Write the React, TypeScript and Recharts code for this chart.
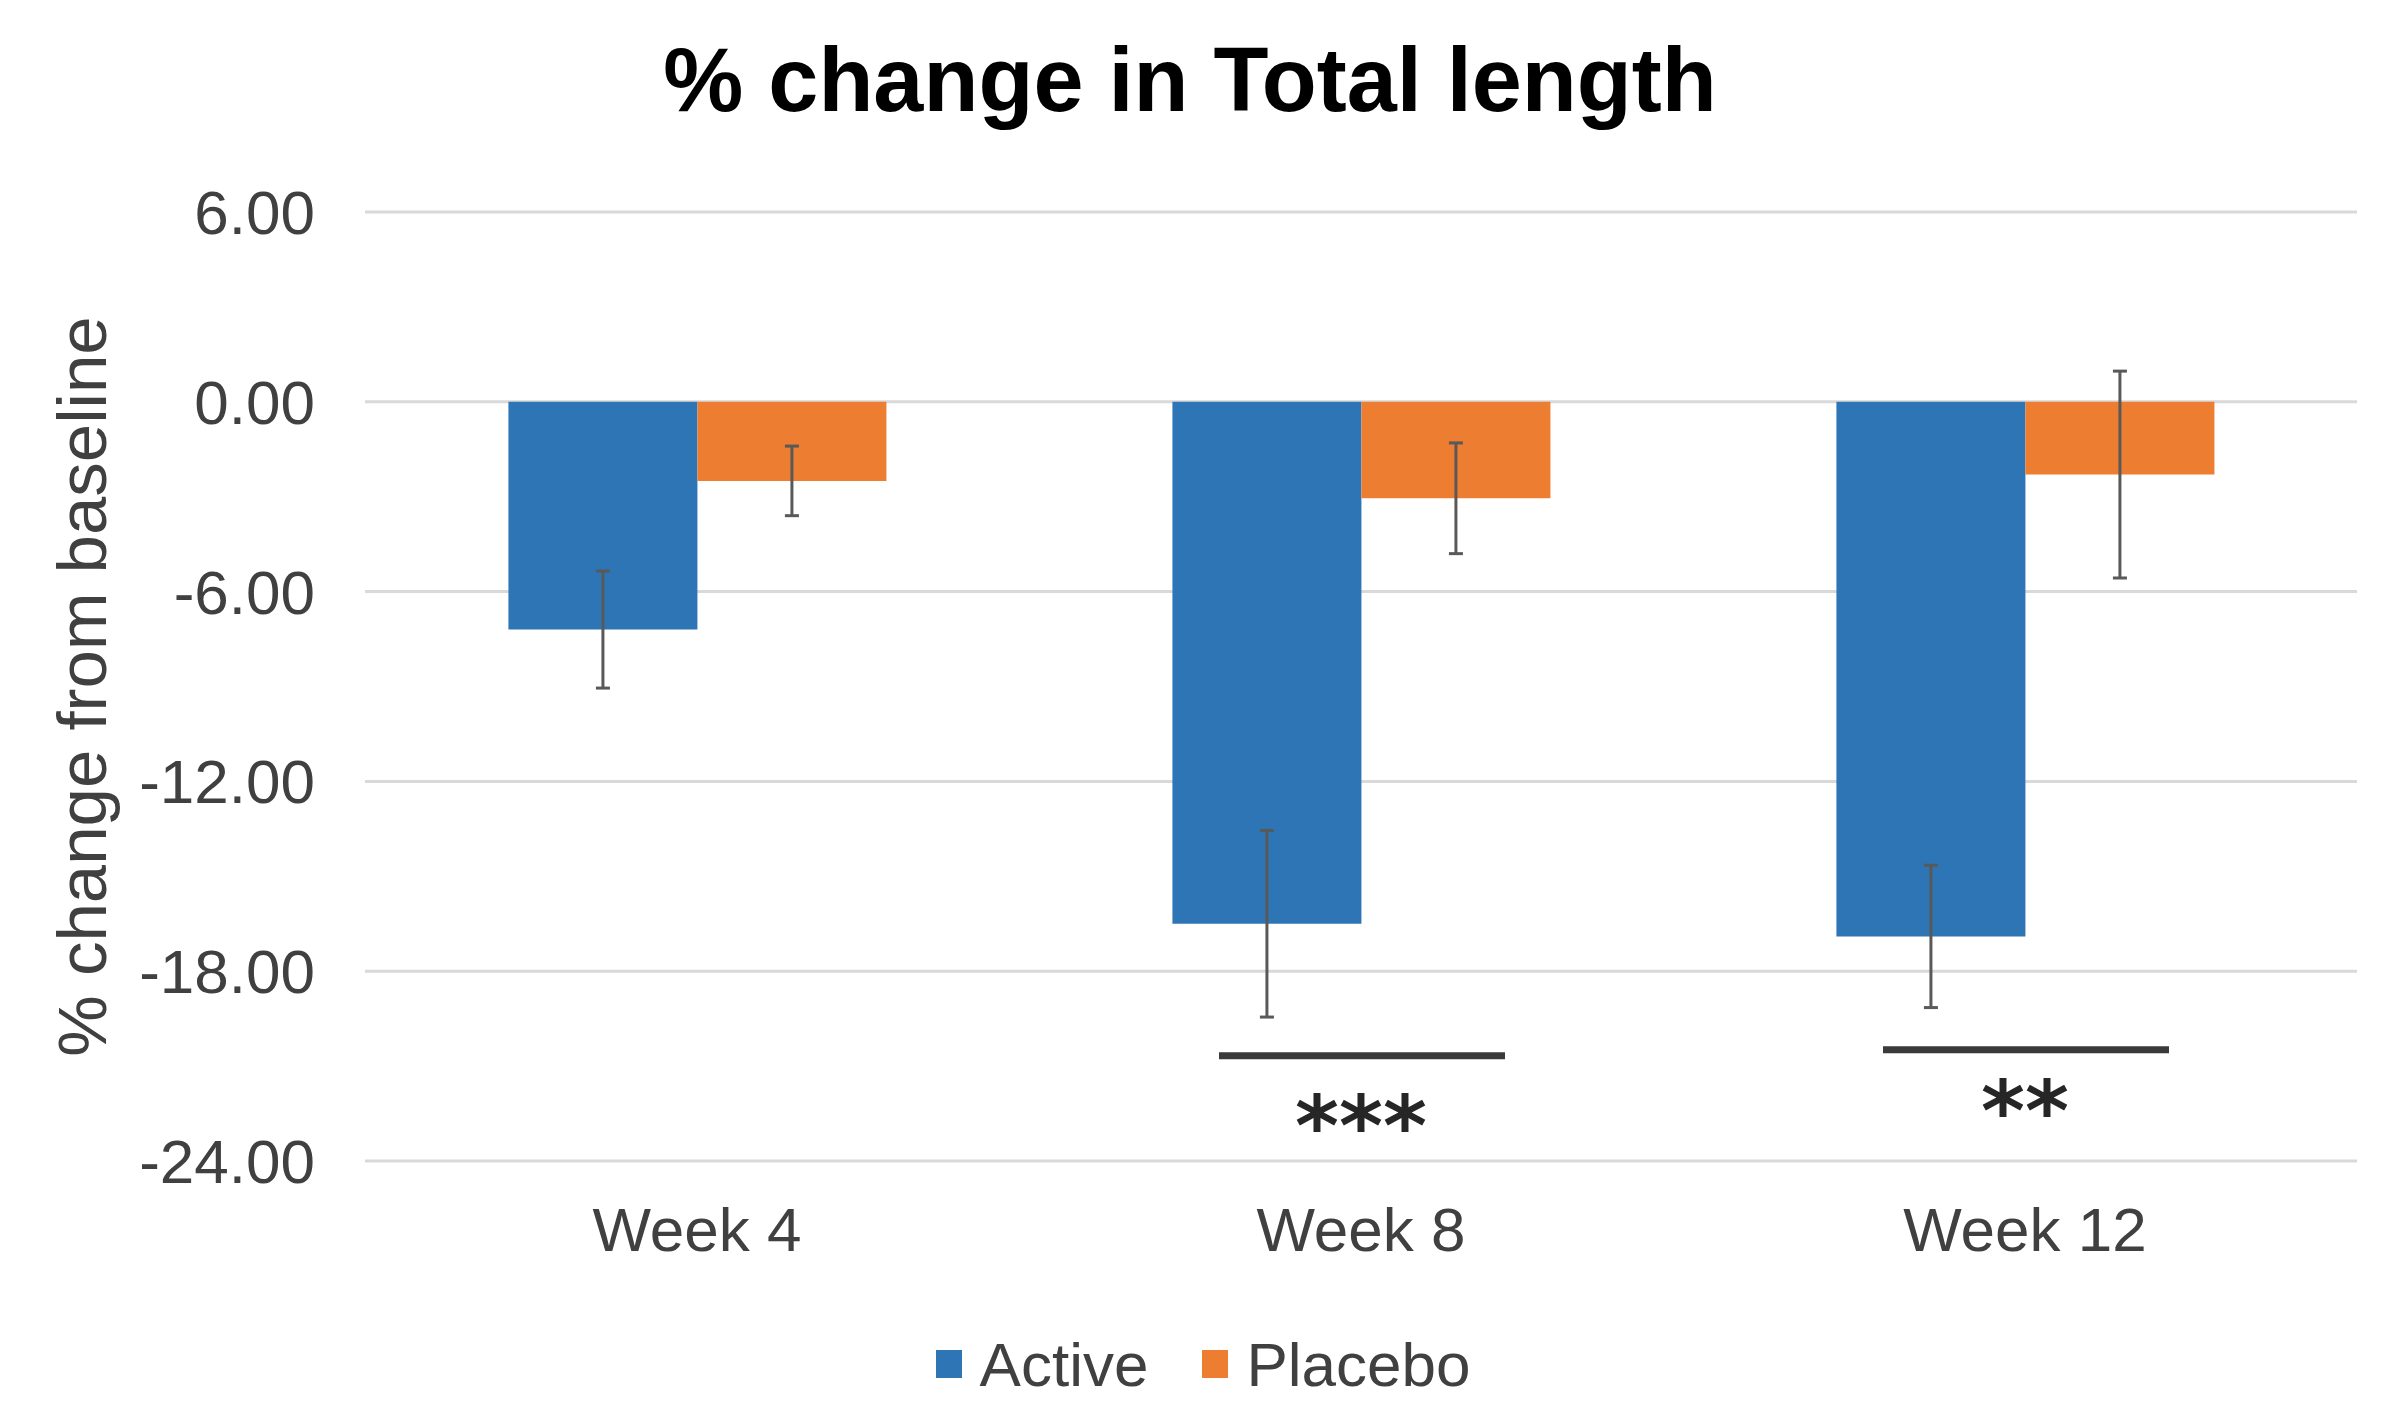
import React from 'react';
import { ComposedChart, Bar, XAxis, YAxis, CartesianGrid, ErrorBar, Scatter } from 'recharts';

// values (% change from baseline, mean +/- error)
const weeks = ['Week 4', 'Week 8', 'Week 12'];
const activeMean = [-7.2, -16.5, -16.9];
const activeErr = [1.85, 2.95, 2.25];
const placeboMean = [-2.5, -3.05, -2.3];
const placeboErr = [1.1, 1.75, 3.27];
// significance brackets below the bars
const sigLineY = [null, -20.67, -20.48];
const sigStarY = [null, -22.77, -22.3];
const sigStars = ['', '***', '**'];
const yTicks = [-24, -18, -12, -6, 0, 6];

const series = [
  { key: 'active', errKey: 'activeErr', name: 'Active', color: '#2E75B6' },
  { key: 'placebo', errKey: 'placeboErr', name: 'Placebo', color: '#ED7D31' },
];

const data = weeks.map((week, i) => ({
  week,
  active: activeMean[i],
  activeErr: activeErr[i],
  placebo: placeboMean[i],
  placeboErr: placeboErr[i],
  sigLine: sigLineY[i],
  sigStar: sigStarY[i],
  stars: sigStars[i],
}));

const FONT = '"Liberation Sans", Arial, sans-serif';
const TEXT = '#404040';

const SigLine = (props: any) => {
  const { cx, cy, payload } = props;
  if (cy == null || !payload || !payload.stars) return <g />;
  return <line x1={cx - 142} x2={cx + 144} y1={cy} y2={cy} stroke="#3a3a3a" strokeWidth={7} />;
};

const SigStars = (props: any) => {
  const { cx, cy, payload } = props;
  if (cy == null || !payload || !payload.stars) return <g />;
  return (
    <text x={cx} y={cy} dy={4} textAnchor="middle" dominantBaseline="central"
      fontFamily='"DejaVu Sans", sans-serif' fontWeight="bold" fontSize={84} fill="#262626">
      {payload.stars}
    </text>
  );
};

const YLabel = (props: any) => {
  const vb = props.viewBox || {};
  const cy = vb.y + vb.height / 2;
  return (
    <text x={74} y={cy} textAnchor="middle" dominantBaseline="central"
      transform={`rotate(-90, 74, ${cy})`} fontFamily={FONT} fontSize={69} fill={TEXT}>
      % change from baseline
    </text>
  );
};

export default function App() {
  return (
    <div style={{ position: 'relative', width: 2384, height: 1411, fontFamily: FONT, background: '#fff' }}>
      <div style={{
        position: 'absolute', left: 0, top: 27, width: 2364, textAlign: 'center',
        fontSize: 90, lineHeight: '90px', fontWeight: 'bold', color: '#000',
      }}>
        % change in Total length
      </div>

      <ComposedChart width={2384} height={1411} data={data}
        margin={{ top: 204, right: 35, left: 0, bottom: 158 }}
        barCategoryGap="21.6%" barGap={0}>
        <CartesianGrid vertical={false} stroke="#D9D9D9" strokeWidth={3} />
        <XAxis dataKey="week" axisLine={false} tickLine={false} tickSize={0} tickMargin={46} height={100}
          tick={{ fontSize: 62, fill: TEXT, fontFamily: FONT }} />
        <YAxis type="number" domain={[-24, 6]} ticks={yTicks} width={357} axisLine={false} tickLine={false}
          tickSize={0} tickMargin={50} tickFormatter={(v: number) => v.toFixed(2)}
          tick={{ fontSize: 62, fill: TEXT, fontFamily: FONT }}
          label={{ content: YLabel }} />
        {series.map(s => (
          <Bar key={s.key} dataKey={s.key} name={s.name} fill={s.color} isAnimationActive={false}>
            <ErrorBar dataKey={s.errKey} width={7} stroke="#595959" strokeWidth={3} isAnimationActive={false} />
          </Bar>
        ))}
        <Scatter dataKey="sigLine" shape={SigLine} legendType="none" isAnimationActive={false} />
        <Scatter dataKey="sigStar" shape={SigStars} legendType="none" isAnimationActive={false} />
      </ComposedChart>

      <div style={{
        position: 'absolute', left: 10, top: 1320, width: 2370, height: 72,
        display: 'flex', justifyContent: 'center', alignItems: 'center',
        fontSize: 62, color: TEXT,
      }}>
        {series.map((s, i) => (
          <div key={s.key} style={{ display: 'flex', alignItems: 'center', marginLeft: i ? 54 : 0 }}>
            <div style={{ width: 26, height: 28, background: s.color, marginRight: 18 }} />
            <span>{s.name}</span>
          </div>
        ))}
      </div>
    </div>
  );
}
